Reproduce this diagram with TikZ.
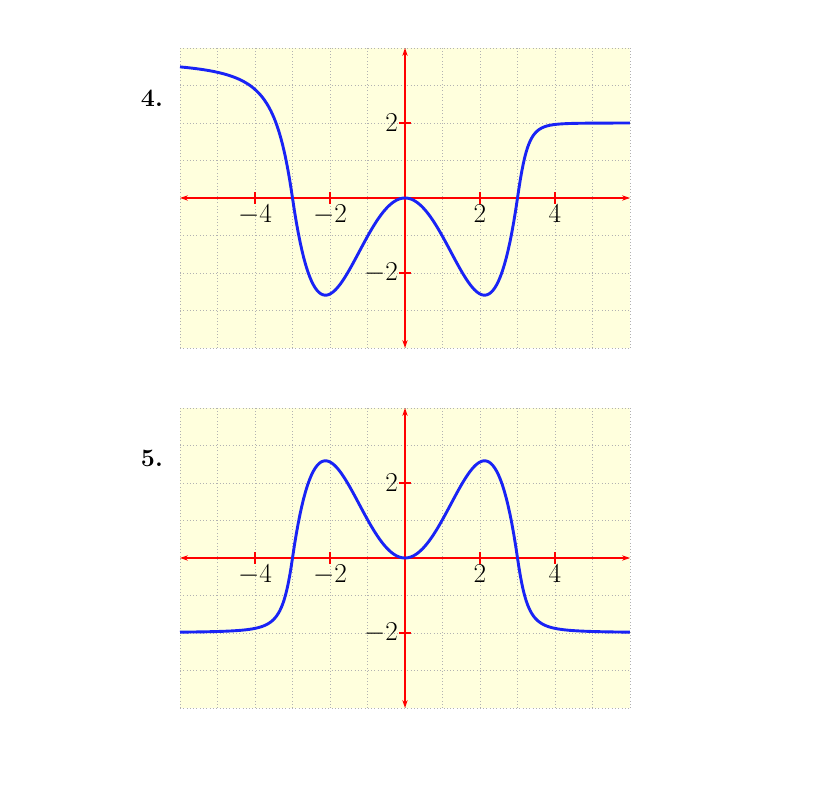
\documentclass[tikz,border=0pt]{standalone}
\usetikzlibrary{arrows.meta}
\definecolor{bgy}{RGB}{255,255,221}
\definecolor{crv}{RGB}{25,35,245}
\tikzset{
 gridl/.style={gray!60,dotted,line width=0.5pt},
 axis/.style={red,line width=0.9pt,{Stealth[length=6pt,width=4pt]}-{Stealth[length=6pt,width=4pt]}},
 tick/.style={red,line width=0.9pt},
 curve/.style={crv,line width=2.2pt},
 lbl/.style={font=\fontsize{20}{24}\selectfont,inner sep=1pt},
 num/.style={font=\fontsize{19}{22}\selectfont\bfseries}
}
\newcommand{\mypanel}{%
 \fill[bgy] (-6,-4) rectangle (6,4);
 \draw[gridl] (-6,-4) grid (6,4);
 \draw[axis] (-6,0) -- (6,0);
 \draw[axis] (0,-4) -- (0,4);
 \foreach \x in {-4,-2,2,4} \draw[tick] (\x,-0.15) -- (\x,0.15);
 \foreach \y in {-2,2} \draw[tick] (-0.15,\y) -- (0.15,\y);
 \node[lbl,anchor=north] at (-4,-0.15) {$-4$};
 \node[lbl,anchor=north] at (-2,-0.15) {$-2$};
 \node[lbl,anchor=north] at (2,-0.15) {$2$};
 \node[lbl,anchor=north] at (4,-0.15) {$4$};
 \node[lbl,anchor=east] at (-0.15,2) {$2$};
 \node[lbl,anchor=east] at (-0.15,-2) {$-2$};
}
\begin{document}
\begin{tikzpicture}[x=1cm,y=1cm]
\useasboundingbox (0,0) rectangle (22.4,21.0667);
\begin{scope}[shift={(10.8,15.787)}]
 \mypanel
 \draw[curve] plot[domain=-6:-3,samples=80] (\x,{3.8*tanh(1.8*(-3-\x)/(1+0.8*(-3-\x)))})
   -- plot[domain=-3:3,samples=120] (\x,{0.128*\x*\x*(\x*\x-9)})
   -- plot[domain=3:6,samples=80] (\x,{2*tanh(3.45*(\x-3)/(1+0.5*(\x-3)))});
 \node[num] (n4) at (-6.75,2.65) {4.};
\end{scope}
\begin{scope}[shift={(10.8,6.187)}]
 \mypanel
 \draw[curve] plot[domain=-6:-3,samples=80] (\x,{-2*tanh(3.45*(-3-\x)/(1+(-3-\x)))})
   -- plot[domain=-3:3,samples=120] (\x,{-0.128*\x*\x*(\x*\x-9)})
   -- plot[domain=3:6,samples=80] (\x,{-2*tanh(3.45*(\x-3)/(1+(\x-3)))});
 \node[num] (n5) at (-6.75,2.65) {5.};
\end{scope}
\end{tikzpicture}
\end{document}
